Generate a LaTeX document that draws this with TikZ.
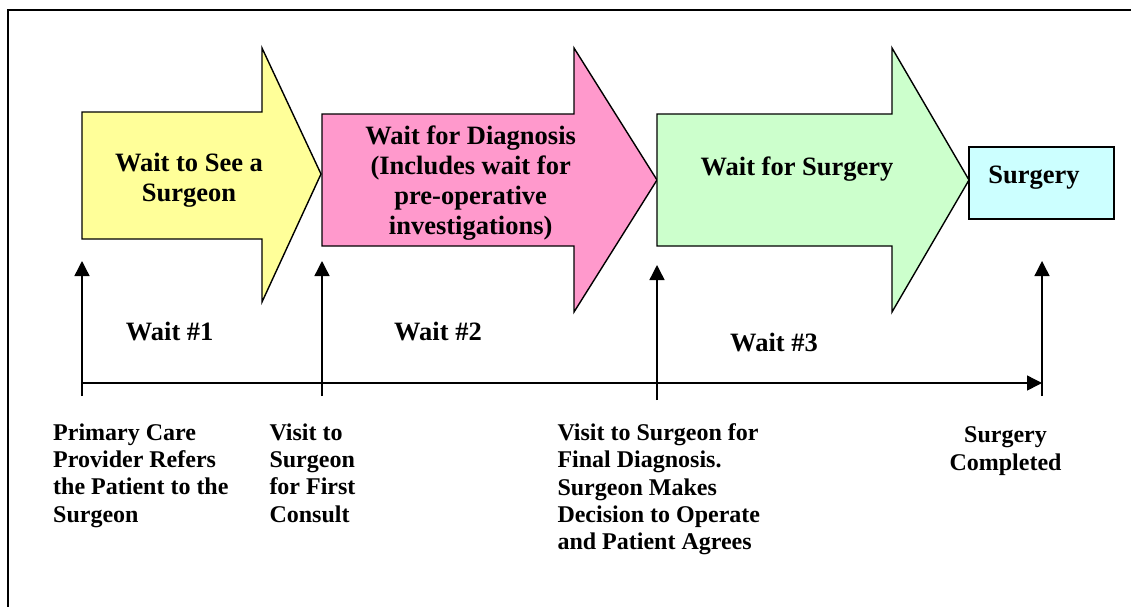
\documentclass[tikz,border=0pt]{standalone}
\usepackage{fontspec}
\setmainfont{Liberation Serif}
\definecolor{WaitYellow}{HTML}{FFFF99}
\definecolor{WaitPink}{HTML}{FF99CC}
\definecolor{WaitGreen}{HTML}{CCFFCC}
\definecolor{SurgeryCyan}{HTML}{CCFFFF}
\usetikzlibrary{arrows.meta,positioning}

\tikzset{
  stagearrow/.style={draw=black, line width=1.4pt, line join=miter},
  stagetext/.style={font=\fontsize{26.5}{30}\selectfont\bfseries, align=center, inner sep=0pt},
  waitlabel/.style={font=\fontsize{26.5}{30}\selectfont\bfseries, inner sep=0pt},
  eventtext/.style={font=\fontsize{24}{27.3}\selectfont\bfseries, inner sep=0pt},
  timeline/.style={line width=1.4pt, -{Triangle[length=15pt,width=15pt]}},
  tick/.style={line width=1.4pt}
}

\begin{document}
\begin{tikzpicture}[x=1pt,y=-1pt]
    \useasboundingbox (0,0) rectangle (1131,606);
    % outer frame, right and bottom edges fall outside the page
    \draw[line width=1.3pt] (8,620) -- (8,10) -- (1140,10);

    % the three waiting stages
    \draw[stagearrow, fill=WaitYellow]
      (82,112) -- (262,112) -- (262,48) -- (321,174) -- (262,302) -- (262,239) -- (82,239) -- cycle;
    \draw[stagearrow, fill=WaitPink]
      (322,114) -- (574,114) -- (574,48) -- (657,180) -- (574,312) -- (574,246) -- (322,246) -- cycle;
    \draw[stagearrow, fill=WaitGreen]
      (657,114) -- (892,114) -- (892,48) -- (969,180) -- (892,312) -- (892,246) -- (657,246) -- cycle;
    \node[draw=black, line width=1.4pt, fill=SurgeryCyan,
          minimum width=145pt, minimum height=72pt, inner sep=0pt] (surgerybox) at (1041.5,183) {};

    \node[stagetext] (seesurgeon) at (189,180) {Wait to See a\\Surgeon};
    \node[stagetext] (diagnosis) at (470.7,183.5) {Wait for Diagnosis\\(Includes wait for\\pre-operative\\investigations)};
    \node[stagetext] (waitsurgery) at (797,169.5) {Wait for Surgery};
    \node[stagetext] (surgery) at (1034,177.5) {Surgery};

    % milestones on the timeline
    \coordinate (refer) at (82,396);
    \coordinate (referup) at (82,261);
    \coordinate (consult) at (322,396);
    \coordinate (consultup) at (322,261);
    \coordinate (decide) at (657,400);
    \coordinate (decideup) at (657,265);
    \coordinate (done) at (1042,396);
    \coordinate (doneup) at (1042,261);
    \coordinate (linestart) at (82,383);
    \coordinate (lineend) at (1042,383);

    \foreach \m in {refer,consult,decide,done}
      \draw[timeline] (\m) -- (\m up);
    \draw[timeline] (linestart) -- (lineend);

    \node[waitlabel] (wait1) at (169.7,331.7) {Wait \#1};
    \node[waitlabel] (wait2) at (438,331.7) {Wait \#2};
    \node[waitlabel] (wait3) at (774,342) {Wait \#3};

    \node[eventtext, anchor=north west, align=left] (refertext) at (53,423.3)
      {Primary Care\\Provider Refers\\the Patient to the\\Surgeon};
    \node[eventtext, anchor=north west, align=left] (consulttext) at (269.3,423.3)
      {Visit to\\Surgeon\\for First\\Consult};
    \node[eventtext, anchor=north west, align=left] (decidetext) at (557.3,423.3)
      {Visit to Surgeon for\\Final Diagnosis.\\Surgeon Makes\\Decision to Operate\\and Patient Agrees};
    \node[eventtext, anchor=north, align=center] (donetext) at (1005.5,426.7)
      {Surgery\\Completed};
\end{tikzpicture}
\end{document}
